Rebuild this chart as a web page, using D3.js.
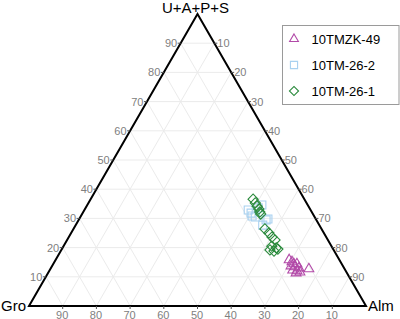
<!DOCTYPE html>
<html><head><meta charset="utf-8">
<script src="https://cdn.jsdelivr.net/npm/d3@7"></script>
<style>body{margin:0;background:#fff}svg{display:block}text{font-family:"Liberation Sans",Arial,sans-serif}</style>
</head><body><div id="c"></div>
<script>
// Axis titles (vertex labels)
const topLabel = "U+A+P+S", leftLabel = "Gro", rightLabel = "Alm";
const ticks = [10,20,30,40,50,60,70,80,90];
const seriesNames = ["10TMZK-49","10TM-26-2","10TM-26-1"];
// [U+A+P+S, Gro, Alm] in percent
const tmzk49 = [
 [15.8,14.9,69.3],[15.1,14.4,70.5],[14.4,14.2,71.4],[13.4,14.4,72.2],[14.4,13.3,72.3],
 [12.3,15.6,72.1],[12.0,14.5,73.5],[13.0,13.4,73.6],[11.3,15.1,73.6],[12.7,10.6,76.7],
 [13.7,15.4,70.9],[11.6,13.8,74.6]
];
const tm262 = [
 [32.9,18.5,48.6],[31.8,18.2,50.0],[30.5,17.6,51.9],[34.6,13.6,51.8],[29.5,14.9,55.6],
 [29.8,14.2,56.0],[33.6,15.2,51.2],[27.7,16.8,55.5],[30.8,18.4,50.8]
];
const tm261 = [
 [36.6,15.2,48.2],[35.3,15.2,49.5],[34.2,15.2,50.6],[33.2,15.2,51.6],[32.2,15.4,52.4],
 [31.5,15.5,53.0],[26.4,16.8,56.8],[25.0,16.3,58.7],[23.6,16.1,60.3],[22.6,15.7,61.7],
 [20.5,17.7,61.8],[19.9,16.7,63.4],[18.8,17.9,63.3],[19.5,16.4,64.1],[19.2,18.9,61.9]
];

const W=400,H=319;
const svg=d3.select("#c").append("svg").attr("width",W).attr("height",H);
const gx=29, ax=366, by=306, ty=14;
const side=ax-gx;
const sx=d3.scaleLinear().domain([0,100]).range([0,side]);
const sy=d3.scaleLinear().domain([0,100]).range([by,ty]);
function pos(t,alm){ return [gx+sx(alm+t/2), sy(t)]; }

const g=svg.append("g");
const grid=g.append("g").attr("stroke","#ebebeb").attr("stroke-width",1).attr("fill","none");
ticks.forEach(k=>{
  let a=pos(k,0), b=pos(k,100-k);
  grid.append("line").attr("x1",a[0]).attr("y1",a[1]).attr("x2",b[0]).attr("y2",b[1]);
  a=pos(0,k); b=pos(100-k,k);
  grid.append("line").attr("x1",a[0]).attr("y1",a[1]).attr("x2",b[0]).attr("y2",b[1]);
  a=pos(0,100-k); b=pos(100-k,0);
  grid.append("line").attr("x1",a[0]).attr("y1",a[1]).attr("x2",b[0]).attr("y2",b[1]);
});
const P=[pos(0,0),pos(0,100),pos(100,0)];
g.append("path").attr("d","M"+P[0]+"L"+P[1]+"L"+P[2]+"Z").attr("fill","none")
 .attr("stroke","#000").attr("stroke-width",2).attr("stroke-linejoin","miter");

const tg=g.append("g").attr("font-size",11).attr("fill","#808080");
ticks.forEach(k=>{
  let p=pos(k,0);
  g.append("line").attr("x1",p[0]).attr("y1",p[1]).attr("x2",p[0]-3).attr("y2",p[1]).attr("stroke","#555").attr("stroke-width",1);
  tg.append("text").attr("x",p[0]-3.5).attr("y",p[1]+4).attr("text-anchor","end").text(k);
  p=pos(0,100-k);
  g.append("line").attr("x1",p[0]).attr("y1",p[1]).attr("x2",p[0]).attr("y2",p[1]+3).attr("stroke","#555").attr("stroke-width",1);
  tg.append("text").attr("x",p[0]-0.5).attr("y",p[1]+12.5).attr("text-anchor","middle").text(k);
  p=pos(100-k,k);
  g.append("line").attr("x1",p[0]).attr("y1",p[1]).attr("x2",p[0]+3).attr("y2",p[1]).attr("stroke","#555").attr("stroke-width",1);
  tg.append("text").attr("x",p[0]+3).attr("y",p[1]+4).attr("text-anchor","start").text(k);
});
g.append("text").attr("x",pos(100,0)[0]-2).attr("y",13).attr("text-anchor","middle").attr("font-size",15).attr("fill","#000").text(topLabel);
g.append("text").attr("x",1).attr("y",311).attr("text-anchor","start").attr("font-size",15).attr("fill","#000").text(leftLabel);
g.append("text").attr("x",368).attr("y",311).attr("text-anchor","start").attr("font-size",15).attr("fill","#000").text(rightLabel);

const styles=[
  {data:tmzk49, sym:d3.symbolTriangle, size:42, rot:0, color:"#b24aa8"},
  {data:tm262, sym:d3.symbolSquare, size:64, rot:0, color:"#a9d1f0"},
  {data:tm261, sym:d3.symbolSquare, size:52, rot:45, color:"#2a8a3c"}
];
styles.forEach(s=>{
  g.append("g").selectAll("path").data(s.data).join("path")
   .attr("d",d3.symbol().type(s.sym).size(s.size))
   .attr("transform",d=>{const p=pos(d[0],d[2]);return `translate(${p[0]},${p[1]}) rotate(${s.rot})`;})
   .attr("fill","none").attr("stroke",s.color).attr("stroke-width",1.1);
});

const lg=svg.append("g");
lg.append("rect").attr("x",282.5).attr("y",25.5).attr("width",116.5).attr("height",79)
  .attr("fill","#fff").attr("stroke","#9a9a9a").attr("stroke-width",1);
seriesNames.forEach((n,i)=>{
  const y=39+i*26;
  lg.append("path").attr("d",d3.symbol().type(styles[i].sym).size(styles[i].size*0.8))
    .attr("transform",`translate(294,${y}) rotate(${styles[i].rot})`).attr("fill","none").attr("stroke",styles[i].color).attr("stroke-width",1.1);
  lg.append("text").attr("x",311.5).attr("y",y+4.5).attr("font-size",13).attr("fill","#000").text(n);
});
</script></body></html>
